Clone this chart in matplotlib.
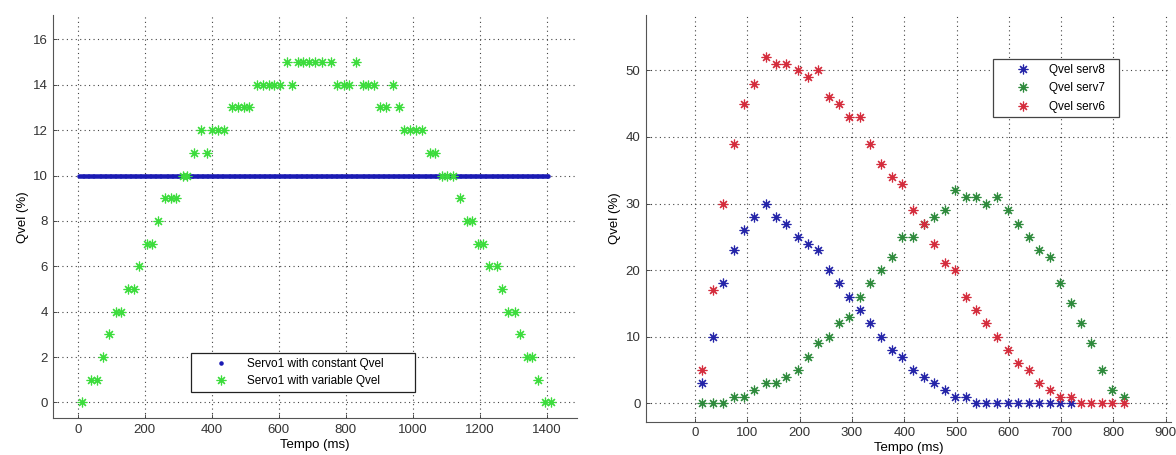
"""
Servo Qvel comparison: constant vs variable Qvel (left), three servos (right).
"""

import numpy as np
import matplotlib.pyplot as plt
import matplotlib as mpl

mpl.rcParams.update(
    {
        "font.family": "Liberation Sans",
        "font.size": 8.5,
        "axes.labelsize": 9.5,
        "xtick.labelsize": 9.5,
        "ytick.labelsize": 9.5,
        "xtick.direction": "in",
        "ytick.direction": "in",
        "xtick.color": "#333333",
        "ytick.color": "#333333",
        "axes.edgecolor": "#555555",
    }
)

# ---------------------------------------------------------------------------
# Data
# ---------------------------------------------------------------------------
# left: constant Qvel command, sampled uniformly
const_start, const_stop, const_step = 5, 1405, 5   # ms
const_level = 10                                    # %

# left: variable Qvel
t_var = [14, 40, 57, 74, 94, 114, 129, 150, 169, 184, 206, 223, 240, 261, 278,
         294, 313, 327, 348, 369, 385, 401, 419, 436, 460, 478, 496, 512, 534,
         552, 570, 587, 603, 624, 641, 657, 673, 691, 709, 728, 756, 774, 795,
         811, 831, 851, 867, 884, 902, 920, 940, 958, 975, 992, 1009, 1028,
         1050, 1067, 1087, 1103, 1119, 1142, 1161, 1176, 1196, 1211, 1229,
         1251, 1266, 1285, 1305, 1320, 1340, 1357, 1375, 1395, 1412]
q_var = [0, 1, 1, 2, 3, 4, 4, 5, 5, 6, 7, 7, 8, 9, 9,
         9, 10, 10, 11, 12, 11, 12, 12, 12, 13, 13, 13, 13, 14,
         14, 14, 14, 14, 15, 14, 15, 15, 15, 15, 15, 15, 14, 14,
         14, 15, 14, 14, 14, 13, 13, 14, 13, 12, 12, 12, 12,
         11, 11, 10, 10, 10, 9, 8, 8, 7, 7, 6,
         6, 5, 4, 4, 3, 2, 2, 1, 0, 0]

# right: three servos
t_serv = [13, 34, 54, 74, 94, 113, 135, 154, 174, 196, 215, 235, 256, 275, 294,
          315, 335, 356, 376, 396, 416, 437, 456, 477, 497, 518, 537, 556, 577,
          598, 618, 639, 658, 679, 698, 719, 738, 758, 778, 798, 820]
q_serv8 = [3, 10, 18, 23, 26, 28, 30, 28, 27, 25, 24, 23, 20, 18, 16,
           14, 12, 10, 8, 7, 5, 4, 3, 2, 1, 1, 0, 0, 0,
           0, 0, 0, 0, 0, 0, 0]
q_serv7 = [0, 0, 0, 1, 1, 2, 3, 3, 4, 5, 7, 9, 10, 12, 13,
           16, 18, 20, 22, 25, 25, 27, 28, 29, 32, 31, 31, 30, 31,
           29, 27, 25, 23, 22, 18, 15, 12, 9, 5, 2, 1]
q_serv6 = [5, 17, 30, 39, 45, 48, 52, 51, 51, 50, 49, 50, 46, 45, 43,
           43, 39, 36, 34, 33, 29, 27, 24, 21, 20, 16, 14, 12, 10,
           8, 6, 5, 3, 2, 1, 1, 0, 0, 0, 0, 0]

t_const = np.arange(const_start, const_stop + 1, const_step)
q_const = np.full(t_const.shape, const_level)

# ---------------------------------------------------------------------------
# Plot
# ---------------------------------------------------------------------------
STAR = (8, 2, 0)   # MATLAB-like asterisk
fig = plt.figure(figsize=(11.76, 4.55), dpi=100)
ax1 = fig.add_axes([0.0453, 0.0807, 0.4453, 0.886])
ax2 = fig.add_axes([0.5493, 0.0732, 0.4464, 0.8936])

ax1.plot(t_const, q_const, ls="none", marker=".", ms=4.5, color="#1a1ab4",
         label="Servo1 with constant Qvel")
ax1.plot(t_var, q_var, ls="none", marker=STAR, ms=7, mew=0.85, color="#3cdc3c",
         label="Servo1 with variable Qvel")

ax2.plot(t_serv[:len(q_serv8)], q_serv8, ls="none", marker=STAR, ms=7, mew=0.85,
         color="#2424a8", label="Qvel serv8")
ax2.plot(t_serv, q_serv7, ls="none", marker=STAR, ms=7, mew=0.85,
         color="#2e8a3c", label="Qvel serv7")
ax2.plot(t_serv, q_serv6, ls="none", marker=STAR, ms=7, mew=0.85,
         color="#d42c3c", label="Qvel serv6")

ax1.set_xlim(-73, 1490)
ax1.set_ylim(-0.7, 17.07)
ax1.set_xticks(range(0, 1401, 200))
ax1.set_yticks(range(0, 17, 2))

ax2.set_xlim(-94, 910)
ax2.set_ylim(-2.76, 58.3)
ax2.set_xticks(range(0, 901, 100))
ax2.set_yticks(range(0, 51, 10))

for ax in (ax1, ax2):
    ax.grid(True, color="#444444", ls=(0, (1, 3)), lw=0.8)
    ax.set_axisbelow(True)
    ax.spines["top"].set_visible(False)
    ax.spines["right"].set_visible(False)
    ax.tick_params(length=3, width=0.6, pad=4)
    ax.set_xlabel("Tempo (ms)", labelpad=2)
    ax.set_ylabel("Qvel (%)", labelpad=3)

# legend boxes placed in figure pixels (left, bottom, width, height)
W, H = 1176, 455
leg1 = ax1.legend(loc="upper left", mode="expand",
                  bbox_to_anchor=(191 / W, 1 - 393 / H, 224 / W, 40 / H),
                  bbox_transform=fig.transFigure, borderaxespad=0,
                  fancybox=False, edgecolor="#222222", framealpha=1,
                  handlelength=4.3, handletextpad=0.05, labelspacing=0.45)
leg2 = ax2.legend(loc="upper left", mode="expand",
                  bbox_to_anchor=(993 / W, 1 - 118 / H, 126 / W, 59 / H),
                  bbox_transform=fig.transFigure, borderaxespad=0,
                  fancybox=False, edgecolor="#444444", framealpha=1,
                  handlelength=4.3, handletextpad=0.05, labelspacing=0.55)
for leg in (leg1, leg2):
    leg.get_frame().set_linewidth(0.9)

fig.savefig("out.png", dpi=100)
plt.close(fig)
